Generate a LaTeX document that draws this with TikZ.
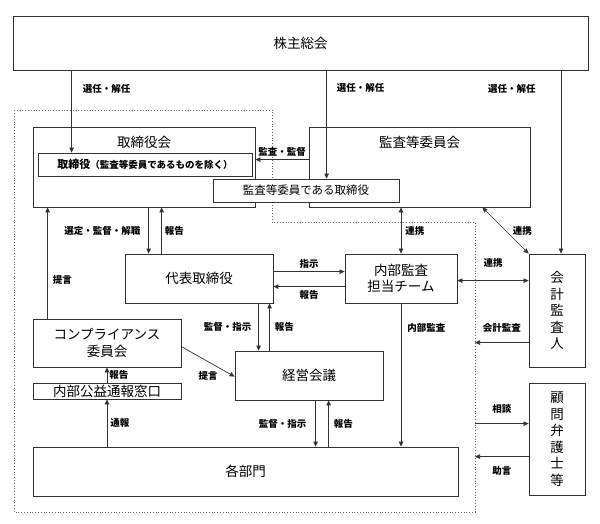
\documentclass[tikz,border=0pt]{standalone}
\usepackage{fontspec}
\setmainfont{Noto Sans CJK JP}
\usetikzlibrary{arrows.meta,positioning}

\tikzset{
	box/.style={draw=black!80, line width=0.8pt, fill=white, inner sep=0pt},
	ttl/.style={font=\fontsize{13.5}{16.5}\selectfont, align=center},
	lbl/.style={font=\bfseries\fontsize{9.5}{11}\selectfont, inner sep=1pt},
	arr/.style={draw=black!80, line width=0.7pt, -{Triangle[length=5pt,width=4.5pt]}},
	arrboth/.style={arr, {Triangle[length=5pt,width=4.5pt]}-{Triangle[length=5pt,width=4.5pt]}},
	frame/.style={draw=black!60, dotted, line width=0.8pt},
}

\begin{document}
\begin{tikzpicture}[x=1pt,y=-1pt]
	\useasboundingbox (0,0) rectangle (600,524);

	% Dotted frame of the company
	\draw[frame] (14,110) -- (272,110) -- (272,222) -- (475,222) -- (475,512) -- (14,512) -- cycle;
	\coordinate (fR) at (475,512);

	% Boxes
	\node[box, ttl, minimum width=575pt, minimum height=54pt] (kabu) at (300.5,43) {株主総会};

	\node[box, minimum width=222pt, minimum height=80pt] (torikai) at (144,167) {};
	\node[ttl] (torikaiT) at ([yshift=-16pt]torikai.north) {取締役会};
	\node[box, font=\bfseries, minimum width=214pt, minimum height=23pt] (torikaiIn) at (145,164.5)
		{{\fontsize{11}{13}\selectfont 取締役}{\fontsize{9.5}{11}\selectfont （監査等委員であるものを除く）}};

	\node[box, minimum width=221pt, minimum height=80pt] (kansaikai) at (419.5,167) {};
	\node[ttl] (kansaikaiT) at ([yshift=-16pt]kansaikai.north) {監査等委員会};
	\node[box, font=\fontsize{11.5}{13}\selectfont, minimum width=186pt, minimum height=23pt] (kansatori) at (306,190.5) {監査等委員である取締役};

	\node[box, ttl, minimum width=148pt, minimum height=49pt] (daihyo) at (199,278.5) {代表取締役};
	\node[box, ttl, minimum width=112pt, minimum height=49pt] (naibu) at (401,278.5) {内部監査\\担当チーム};
	\node[box, ttl, minimum width=56pt, minimum height=113pt] (kaikei) at (557,310.5) {会\\計\\監\\査\\人};

	\node[box, ttl, minimum width=148pt, minimum height=48pt] (compl) at (107,343) {コンプライアンス\\委員会};
	\node[box, ttl, minimum width=148pt, minimum height=16pt] (madoguchi) at (107,391) {内部公益通報窓口};
	\node[box, ttl, minimum width=148pt, minimum height=49pt] (keiei) at (309,375.5) {経営会議};
	\node[box, ttl, minimum width=56pt, minimum height=112pt] (komon) at (557,439) {顧\\問\\弁\\護\\士\\等};
	\node[box, ttl, minimum width=425pt, minimum height=49pt] (kakubu) at (245.5,471.5) {各部門};

	% From the shareholders
	\coordinate (s1) at ([xshift=34pt]torikaiIn.north west);
	\coordinate (s2) at ([xshift=114pt]kansatori.north west);
	\coordinate (s3) at ([xshift=4pt]kaikei.north);
	\draw[arr] (kabu.south -| s1) -- node[lbl, right=10pt, pos=.22] {選任・解任} (s1);
	\draw[arr] (kabu.south -| s2) -- node[lbl, right=9pt, pos=.16] {選任・解任} (s2);
	\draw[arr] (kabu.south -| s3) -- node[lbl, left=24pt, pos=.1] {選任・解任} (s3);

	% Audit committee to board
	\coordinate (k1) at ([yshift=-33pt]kansaikai.north west);
	\draw[arr] (k1) -- node[lbl, above=2pt] {監査・監督} (k1 -| torikai.east);

	% Board and representative director
	\coordinate (d1) at ([xshift=24pt]daihyo.north west);
	\coordinate (d2) at ([xshift=37pt]daihyo.north west);
	\draw[arr] (torikai.south -| d1) -- node[lbl, left=7pt] {選定・監督・解職} (d1);
	\draw[arr] (d2) -- node[lbl, right=2pt] {報告} (torikai.south -| d2);

	\coordinate (c1) at ([xshift=15pt]compl.north west);
	\draw[arr] (c1) -- node[lbl, right=4pt, pos=.35] {提言} (torikai.south -| c1);

	% Representative director and internal audit
	\coordinate (d3) at ([yshift=-18pt]daihyo.north east);
	\coordinate (d4) at ([yshift=-33pt]daihyo.north east);
	\draw[arr] (d3) -- node[lbl, above=2pt] {指示} (d3 -| naibu.west);
	\draw[arr] (d4 -| naibu.west) -- node[lbl, below=2pt] {報告} (d4);

	% Cooperation
	\draw[arrboth] (kansaikai.south -| naibu.north) -- node[lbl, right=3pt] {連携} (naibu.north);
	\coordinate (k2) at ([xshift=-48pt]kansaikai.south east);
	\draw[arrboth] (k2) -- node[lbl, right=6pt] {連携} (kaikei.north west);
	\coordinate (n1) at ([yshift=-27pt]naibu.north east);
	\draw[arrboth] (n1) -- node[lbl, above=12pt] {連携} (n1 -| kaikei.west);

	% Representative director and management meeting
	\coordinate (e1) at ([xshift=24pt]keiei.north west);
	\coordinate (e2) at ([xshift=35pt]keiei.north west);
	\draw[arr] (daihyo.south -| e1) -- node[lbl, left=6pt] {監督・指示} (e1);
	\draw[arr] (e2) -- node[lbl, right=4pt] {報告} (daihyo.south -| e2);

	\coordinate (c2) at ([yshift=-28pt]compl.north east);
	\coordinate (e3) at ([yshift=-26pt]keiei.north west);
	\draw[arr] (c2) -- node[lbl, below=8pt] {提言} (e3);

	% Whistleblowing
	\draw[arr] (madoguchi.north) -- node[lbl, right=1pt] {報告} (compl.south);
	\draw[arr] (kakubu.north -| madoguchi.south) -- node[lbl, right=2pt] {通報} (madoguchi.south);

	% Internal audit
	\draw[arr] (naibu.south) -- node[lbl, right=5pt, pos=.17] {内部監査} (kakubu.north -| naibu.south);

	% Management meeting and departments
	\coordinate (e4) at ([xshift=81pt]keiei.south west);
	\coordinate (e5) at ([xshift=94pt]keiei.south west);
	\draw[arr] (e4) -- node[lbl, left=8pt] {監督・指示} (kakubu.north -| e4);
	\draw[arr] (kakubu.north -| e5) -- node[lbl, right=4pt] {報告} (e5);

	% Outside parties
	\coordinate (a1) at ([yshift=-89pt]kaikei.north west);
	\coordinate (a2) at ([yshift=-41pt]komon.north west);
	\coordinate (a3) at ([yshift=-74pt]komon.north west);
	\draw[arr] (a1) -- node[lbl, above=9pt] {会計監査} (a1 -| fR);
	\draw[arr] (a2 -| fR) -- node[lbl, above=9pt] {相談} (a2);
	\draw[arr] (a3) -- node[lbl, below=8pt] {助言} (a3 -| fR);

\end{tikzpicture}
\end{document}
